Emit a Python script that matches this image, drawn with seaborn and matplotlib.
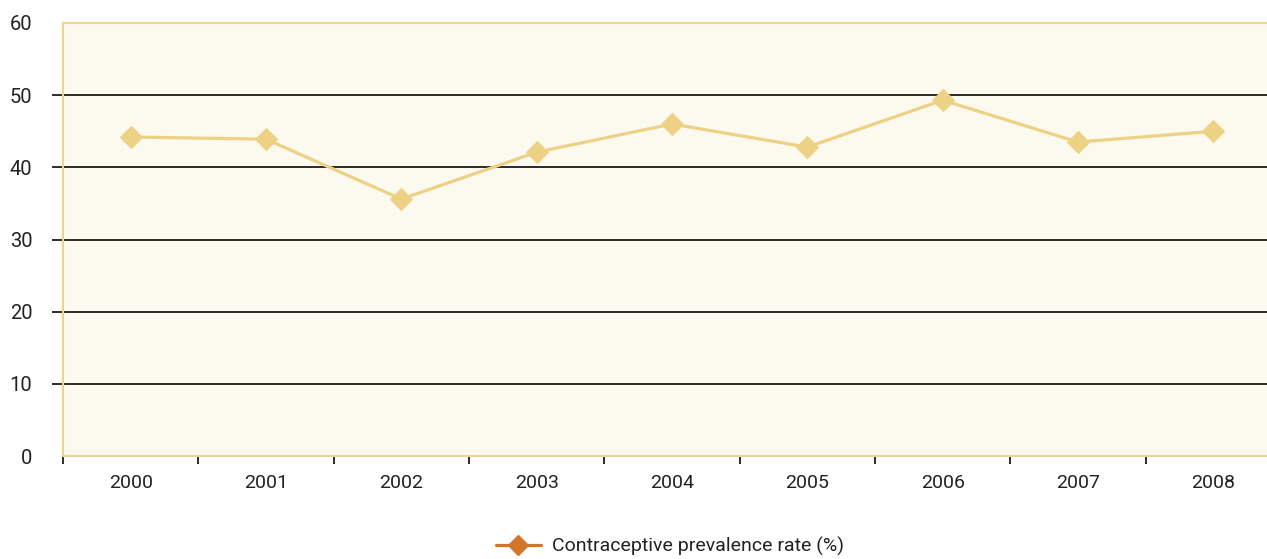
import numpy as np
import pandas as pd
import matplotlib
matplotlib.use("Agg")
import matplotlib.pyplot as plt
from matplotlib.lines import Line2D
import seaborn as sns

# Data
years = ["2000", "2001", "2002", "2003", "2004", "2005", "2006", "2007", "2008"]
rate = [44.2, 43.9, 35.6, 42.1, 46.0, 42.8, 49.3, 43.5, 45.0]
y_ticks = [0, 10, 20, 30, 40, 50, 60]
series_name = "Contraceptive prevalence rate (%)"

df = pd.DataFrame({"year": years, "rate": rate})

sns.set_theme(style="white")
plt.rcParams["font.family"] = ["Roboto", "DejaVu Sans"]

line_col = "#edd286"
legend_col = "#d2762c"
frame_col = "#f0d392"

fig = plt.figure(figsize=(12.67, 5.59), dpi=100, facecolor="white")
ax = fig.add_axes([63 / 1267, 103 / 559, 1218 / 1267, 433 / 559])
ax.set_facecolor("#fcf9ee")

sns.lineplot(data=df, x="year", y="rate", ax=ax, color=line_col,
             linewidth=2.3, marker="D", markersize=11,
             markeredgecolor=line_col, markerfacecolor=line_col)

ax.set_xlim(-0.5, len(years) - 0.5)
ax.set_ylim(0, 60)
ax.set_yticks(y_ticks)
ax.set_xlabel("")
ax.set_ylabel("")

# horizontal grid lines in black, extending left as tick marks
ax.yaxis.grid(True, color="#1a1a1a", linewidth=1.3)
ax.set_axisbelow(True)
ax.tick_params(axis="y", length=8, width=1.3, color="#1a1a1a", pad=14,
               labelsize=14.5, labelcolor="#222222", left=True)
for t, v in zip(ax.yaxis.get_major_ticks(), y_ticks):
    if v in (0, 60):
        t.tick1line.set_visible(False)
        t.gridline.set_visible(False)

# category boundaries as x tick marks
ax.set_xticks(np.arange(len(years)))
ax.set_xticklabels(years)
ax.set_xticks(np.arange(len(years)) - 0.5, minor=True)
ax.tick_params(axis="x", which="major", length=0, pad=13,
               labelsize=14, labelcolor="#222222")
ax.tick_params(axis="x", which="minor", length=6, width=1.3,
               color="#1a1a1a", bottom=True)

for side in ["left", "bottom", "top", "right"]:
    ax.spines[side].set_color(frame_col)
    ax.spines[side].set_linewidth(1.5)

handle = Line2D([], [], color=legend_col, linewidth=2.3, marker="D",
                markersize=10, markerfacecolor=legend_col,
                markeredgecolor=legend_col)
fig.legend([handle], [series_name], loc="center",
           bbox_to_anchor=(0.529, 0.022), frameon=False, fontsize=14,
           handlelength=2.3, handletextpad=0.6, labelcolor="#222222")

fig.savefig("out.png", dpi=100, facecolor="white")
